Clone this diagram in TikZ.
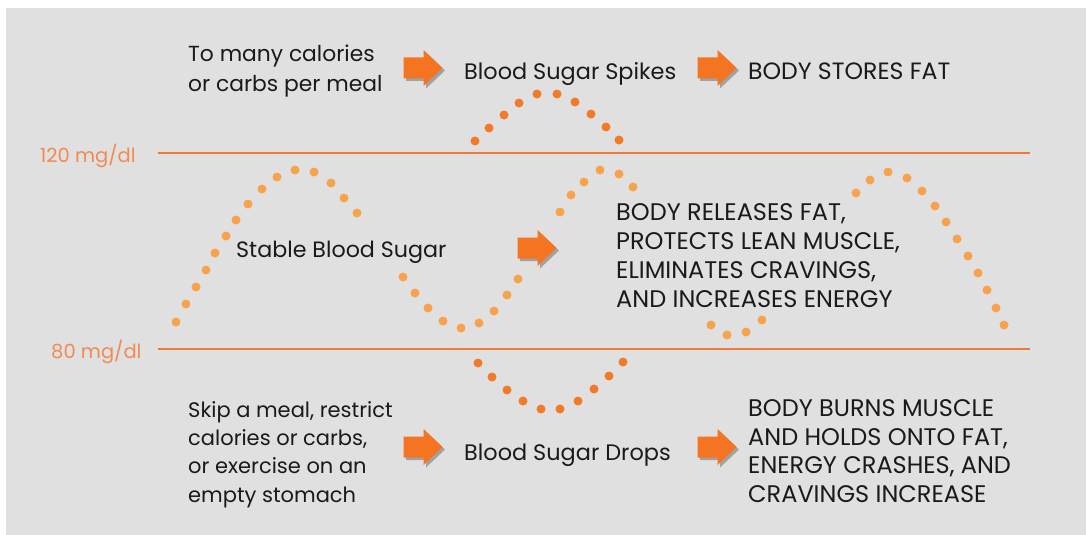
\documentclass[tikz,border=0pt]{standalone}
\usepackage{fontspec}
\setmainfont{Poppins}
\usetikzlibrary{shadows}
\definecolor{bgcol}{HTML}{E0E0E0}
\definecolor{linecol}{HTML}{F07A35}
\definecolor{labcol}{HTML}{F28A52}
\definecolor{lightdot}{HTML}{F9A24D}
\definecolor{darkdot}{HTML}{F47A28}
\definecolor{arrcol}{HTML}{F47422}
\definecolor{txtcol}{HTML}{1A1A1A}
\tikzset{
  txt/.style 2 args={anchor=base west, align=left, inner sep=0pt, text=txtcol, font=\fontsize{#1}{#2}\selectfont},
  lab/.style={anchor=base west, inner sep=0pt, text=labcol, font=\fontsize{19.5}{22}\selectfont},
  hline/.style={draw=linecol, line width=2pt},
  bigarrow/.pic={
    \fill[arrcol, drop shadow={shadow xshift=2.5pt, shadow yshift=-2.5pt, opacity=0.28, fill=black}]
      (-19.5,-10.5) -- (0.5,-10.5) -- (0.5,-18) -- (19.5,0) -- (0.5,18) -- (0.5,10.5) -- (-19.5,10.5) -- cycle;
  },
  ldot/.style={fill=lightdot},
  ddot/.style={fill=darkdot}
}
\begin{document}
\begin{tikzpicture}[x=1pt,y=-1pt]
\useasboundingbox (0,0) rectangle (1087,535);
\fill[bgcol] (6,8) rectangle (1086,535);
% reference lines
\coordinate (h1a) at (158,153); \coordinate (h1b) at (1030,153);
\coordinate (h2a) at (158,349); \coordinate (h2b) at (1030,349);
\draw[hline] (h1a) -- (h1b);
\draw[hline] (h2a) -- (h2b);
\node[lab] (l120) at (40,162) {120 mg/dl};
\node[lab] (l80) at (51,358) {80 mg/dl};
% main wave dots
\foreach \x/\y in {176/322,186/304,196/287,206/270,215/253,226/236,236/220,248/204,262/189,277/177,295/170,314/172,331/183,344/198,357/213,
403/277,415/293,428/308,443/321,461/328,479/323,494/311,507/295,518/279,
560/212,571/195,584/182,600/170,619/174,633/187,
711/325,727/335,746/332,762/320,
856/193,870/180,888/172,907/178,922/191,935/206,946/222,957/239,968/256,978/273,987/290,996/308,1004/325}
  \fill[ldot] (\x,\y) circle (4.5);
% spike dots
\foreach \x/\y in {475/141,489/128,504/115,519/103,537/94,557/94,575/102,591/114,606/127,619/140}
  \fill[ddot] (\x,\y) circle (4.5);
% drop dots
\foreach \x/\y in {478/363,492/377,507/390,523/401,541/409,560/409,578/401,594/389,609/376,623/362}
  \fill[ddot] (\x,\y) circle (4.5);
% texts
\node[txt={21.8}{30}] (cause1) at (188,92) {To many calories\\or carbs per meal};
\pic (a1) at (423,68) {bigarrow};
\node[txt={22.4}{28}] (spikes) at (464,79) {Blood Sugar Spikes};
\pic (a2) at (717,68) {bigarrow};
\node[txt={23.6}{28}] (stores) at (748,79) {BODY STORES FAT};
\node[txt={22.2}{28}] (stable) at (236,257) {Stable Blood Sugar};
\pic (a3) at (537,248) {bigarrow};
\node[txt={24}{28.7}] (releases) at (616,307) {BODY RELEASES FAT,\\PROTECTS LEAN MUSCLE,\\ELIMINATES CRAVINGS,\\AND INCREASES ENERGY};
\node[txt={21}{28.3}] (cause2) at (188,502) {Skip a meal, restrict\\calories or carbs,\\or exercise on an\\empty stomach};
\pic (a4) at (423,447) {bigarrow};
\node[txt={22.4}{28}] (drops) at (464,460) {Blood Sugar Drops};
\pic (a5) at (717,447) {bigarrow};
\node[txt={24}{28.4}] (burns) at (748,502) {BODY BURNS MUSCLE\\AND HOLDS ONTO FAT,\\ENERGY CRASHES, AND\\CRAVINGS INCREASE};
\end{tikzpicture}
\end{document}
